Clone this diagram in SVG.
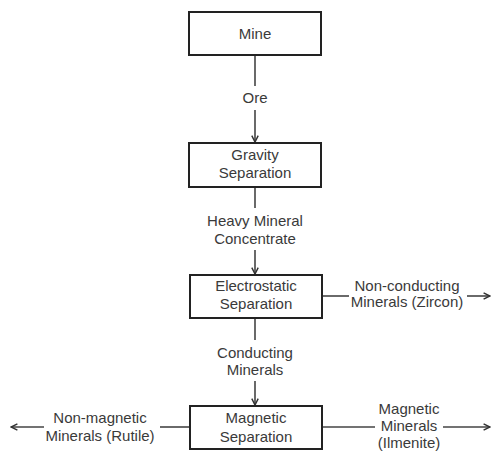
<svg xmlns="http://www.w3.org/2000/svg" width="491" height="452" viewBox="0 0 491 452">
  <defs>
    <style>
      .box { fill: #ffffff; stroke: #222222; stroke-width: 2; }
      .line { fill: none; stroke: #444444; stroke-width: 1.6; }
      .arr { marker-end: url(#head); }
      text { font-family: "Liberation Sans", Arial, sans-serif; font-size: 15px; fill: #3a3a3a; text-anchor: middle; }
    </style>
    <marker id="head" viewBox="0 0 10 10" refX="9" refY="5" markerWidth="8" markerHeight="8" markerUnits="userSpaceOnUse" orient="auto">
      <path d="M1,1 L9,5 L1,9" fill="none" stroke="#333333" stroke-width="1.8"/>
    </marker>
  </defs>
  <rect width="491" height="452" fill="#ffffff"/>

  <g id="connectors">
    <!-- Mine to Gravity -->
    <line class="line" x1="255" y1="55" x2="255" y2="86"/>
    <line class="line arr" x1="255" y1="110" x2="255" y2="142"/>
    <!-- Gravity to Electrostatic -->
    <line class="line" x1="255" y1="187" x2="255" y2="208"/>
    <line class="line arr" x1="255" y1="250" x2="255" y2="274"/>
    <!-- Electrostatic outputs -->
    <line class="line" x1="322" y1="296" x2="349" y2="296"/>
    <line class="line arr" x1="467" y1="296" x2="490" y2="296"/>
    <line class="line" x1="255" y1="318" x2="255" y2="340"/>
    <line class="line arr" x1="255" y1="381" x2="255" y2="405"/>
    <!-- Magnetic outputs -->
    <line class="line" x1="190" y1="427" x2="160" y2="427"/>
    <line class="line arr" x1="44" y1="427" x2="11" y2="427"/>
    <line class="line" x1="322" y1="427" x2="375" y2="427"/>
    <line class="line arr" x1="443" y1="427" x2="490" y2="427"/>
  </g>

  <g id="mine">
    <rect class="box" x="189" y="12" width="132" height="43"/>
    <text x="255" y="39">Mine</text>
  </g>
  <g id="label-ore">
    <text x="255" y="103">Ore</text>
  </g>

  <g id="gravity">
    <rect class="box" x="189" y="143" width="132" height="44"/>
    <text x="255" y="160">Gravity</text>
    <text x="255" y="178">Separation</text>
  </g>
  <g id="label-concentrate">
    <text x="255" y="226">Heavy Mineral</text>
    <text x="255" y="244">Concentrate</text>
  </g>

  <g id="electrostatic">
    <rect class="box" x="190" y="275" width="132" height="43"/>
    <text x="256" y="291">Electrostatic</text>
    <text x="256" y="309">Separation</text>
  </g>
  <g id="label-zircon">
    <text x="407" y="291">Non-conducting</text>
    <text x="407" y="307">Minerals (Zircon)</text>
  </g>
  <g id="label-conducting">
    <text x="255" y="358">Conducting</text>
    <text x="255" y="375">Minerals</text>
  </g>

  <g id="magnetic">
    <rect class="box" x="190" y="406" width="132" height="43"/>
    <text x="256" y="423">Magnetic</text>
    <text x="256" y="442">Separation</text>
  </g>
  <g id="label-rutile">
    <text x="100" y="423">Non-magnetic</text>
    <text x="100" y="441">Minerals (Rutile)</text>
  </g>
  <g id="label-ilmenite">
    <text x="409" y="414">Magnetic</text>
    <text x="409" y="431">Minerals</text>
    <text x="409" y="448">(Ilmenite)</text>
  </g>
</svg>
